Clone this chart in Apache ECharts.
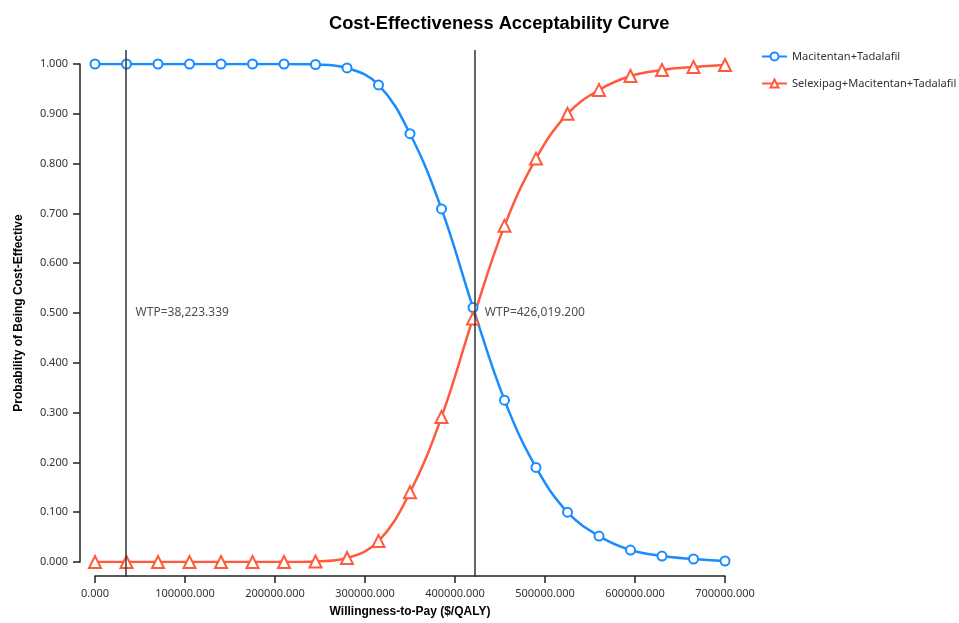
<!DOCTYPE html>
<html><head><meta charset="utf-8">
<script src="https://cdn.jsdelivr.net/npm/echarts@6/dist/echarts.min.js"></script>
<style>html,body{margin:0;padding:0;background:#fff}#c{width:959px;height:623px}</style>
</head><body><div id="c"></div>
<script>
const wtp = [0,35000,70000,105000,140000,175000,210000,245000,280000,315000,350000,385000,420000,455000,490000,525000,560000,595000,630000,665000,700000];
const macitentanTadalafil = [1.000,1.000,1.000,1.000,1.000,1.000,1.000,0.999,0.992,0.958,0.860,0.709,0.511,0.325,0.190,0.100,0.052,0.024,0.012,0.006,0.002];
const selexipagTriple = [0.000,0.000,0.000,0.000,0.000,0.000,0.000,0.001,0.008,0.042,0.140,0.291,0.489,0.675,0.810,0.900,0.948,0.976,0.988,0.994,0.998];
const seriesNames = ['Macitentan+Tadalafil','Selexipag+Macitentan+Tadalafil'];
const wtpLinePositions = [34000, 422000];
const wtpLabels = ['WTP=38,223.339','WTP=426,019.200'];
const labelY = 0.5;

const font = 'Noto Sans';
const chart = echarts.init(document.getElementById('c'), null, {renderer:'canvas'});
chart.setOption({
  animation:false,
  backgroundColor:'#fff',
  title:{text:'Cost-Effectiveness Acceptability Curve', left:324, top:10,
    textStyle:{fontFamily:'Liberation Sans', fontWeight:'bold', fontSize:18.3, color:'#000'}},
  legend:{orient:'vertical', left:756, top:46, width:200, itemGap:16, itemWidth:25, itemHeight:10,
    textStyle:{fontFamily:font, fontSize:11.1, color:'#333', overflow:'none', width:180},
    data:seriesNames},
  grid:[
    {left:95, right:234, top:64, bottom:60},
    {left:95, right:234, top:50, bottom:46}
  ],
  xAxis:[
    {type:'value', gridIndex:0, min:0, max:700000, interval:100000, offset:14,
     name:'Willingness-to-Pay ($/QALY)', nameLocation:'middle', nameGap:30,
     nameTextStyle:{fontFamily:'Liberation Sans', fontWeight:'bold', fontSize:12, color:'#000'},
     axisLine:{show:true, onZero:false, lineStyle:{color:'#222', width:1.5}},
     axisTick:{show:true, length:7, lineStyle:{color:'#222', width:1.5}},
     axisLabel:{fontFamily:font, fontSize:11, color:'#333', margin:12, formatter:v=>v.toFixed(3)},
     splitLine:{show:false}},
    {type:'value', gridIndex:1, min:0, max:700000, show:false}
  ],
  yAxis:[
    {type:'value', gridIndex:0, min:0, max:1, interval:0.1, offset:15,
     name:'Probability of Being Cost-Effective', nameLocation:'middle', nameGap:55,
     nameTextStyle:{fontFamily:'Liberation Sans', fontWeight:'bold', fontSize:12, color:'#000'},
     axisLine:{show:true, onZero:false, lineStyle:{color:'#222', width:1.5}},
     axisTick:{show:true, length:7, lineStyle:{color:'#222', width:1.5}},
     axisLabel:{fontFamily:font, fontSize:11, color:'#333', margin:12, formatter:v=>v.toFixed(3)},
     splitLine:{show:false}},
    {type:'value', gridIndex:1, min:0, max:1, show:false}
  ],
  series:[
    {name:seriesNames[0], type:'line', xAxisIndex:0, yAxisIndex:0, smooth:0.4,
     data:wtp.map((x,i)=>[x,macitentanTadalafil[i]]),
     symbol:'emptyCircle', symbolSize:9, z:3,
     itemStyle:{color:'#1a8cff', borderWidth:1.5},
     lineStyle:{color:'#1a8cff', width:2.5}},
    {name:seriesNames[1], type:'line', xAxisIndex:0, yAxisIndex:0, smooth:0.4,
     data:wtp.map((x,i)=>[x,selexipagTriple[i]]),
     symbol:'emptyTriangle', symbolSize:12, z:3,
     itemStyle:{color:'#ff5a3c', borderWidth:1.5},
     lineStyle:{color:'#ff5a3c', width:2.5}},
    {type:'line', xAxisIndex:1, yAxisIndex:1, data:[], silent:true, z:2,
     markLine:{symbol:['none','none'], silent:true, label:{show:false},
       lineStyle:{color:'#333', width:1.5, type:'solid'},
       data:wtpLinePositions.map(v=>({xAxis:v}))}},
    {type:'scatter', xAxisIndex:0, yAxisIndex:0, symbolSize:0, silent:true, z:4,
     data:wtpLinePositions.map((v,i)=>({value:[v,labelY], label:{formatter:wtpLabels[i]}})),
     label:{show:true, position:'right', distance:10, fontFamily:font, fontSize:12, color:'#222'}}
  ]
});
</script></body></html>
